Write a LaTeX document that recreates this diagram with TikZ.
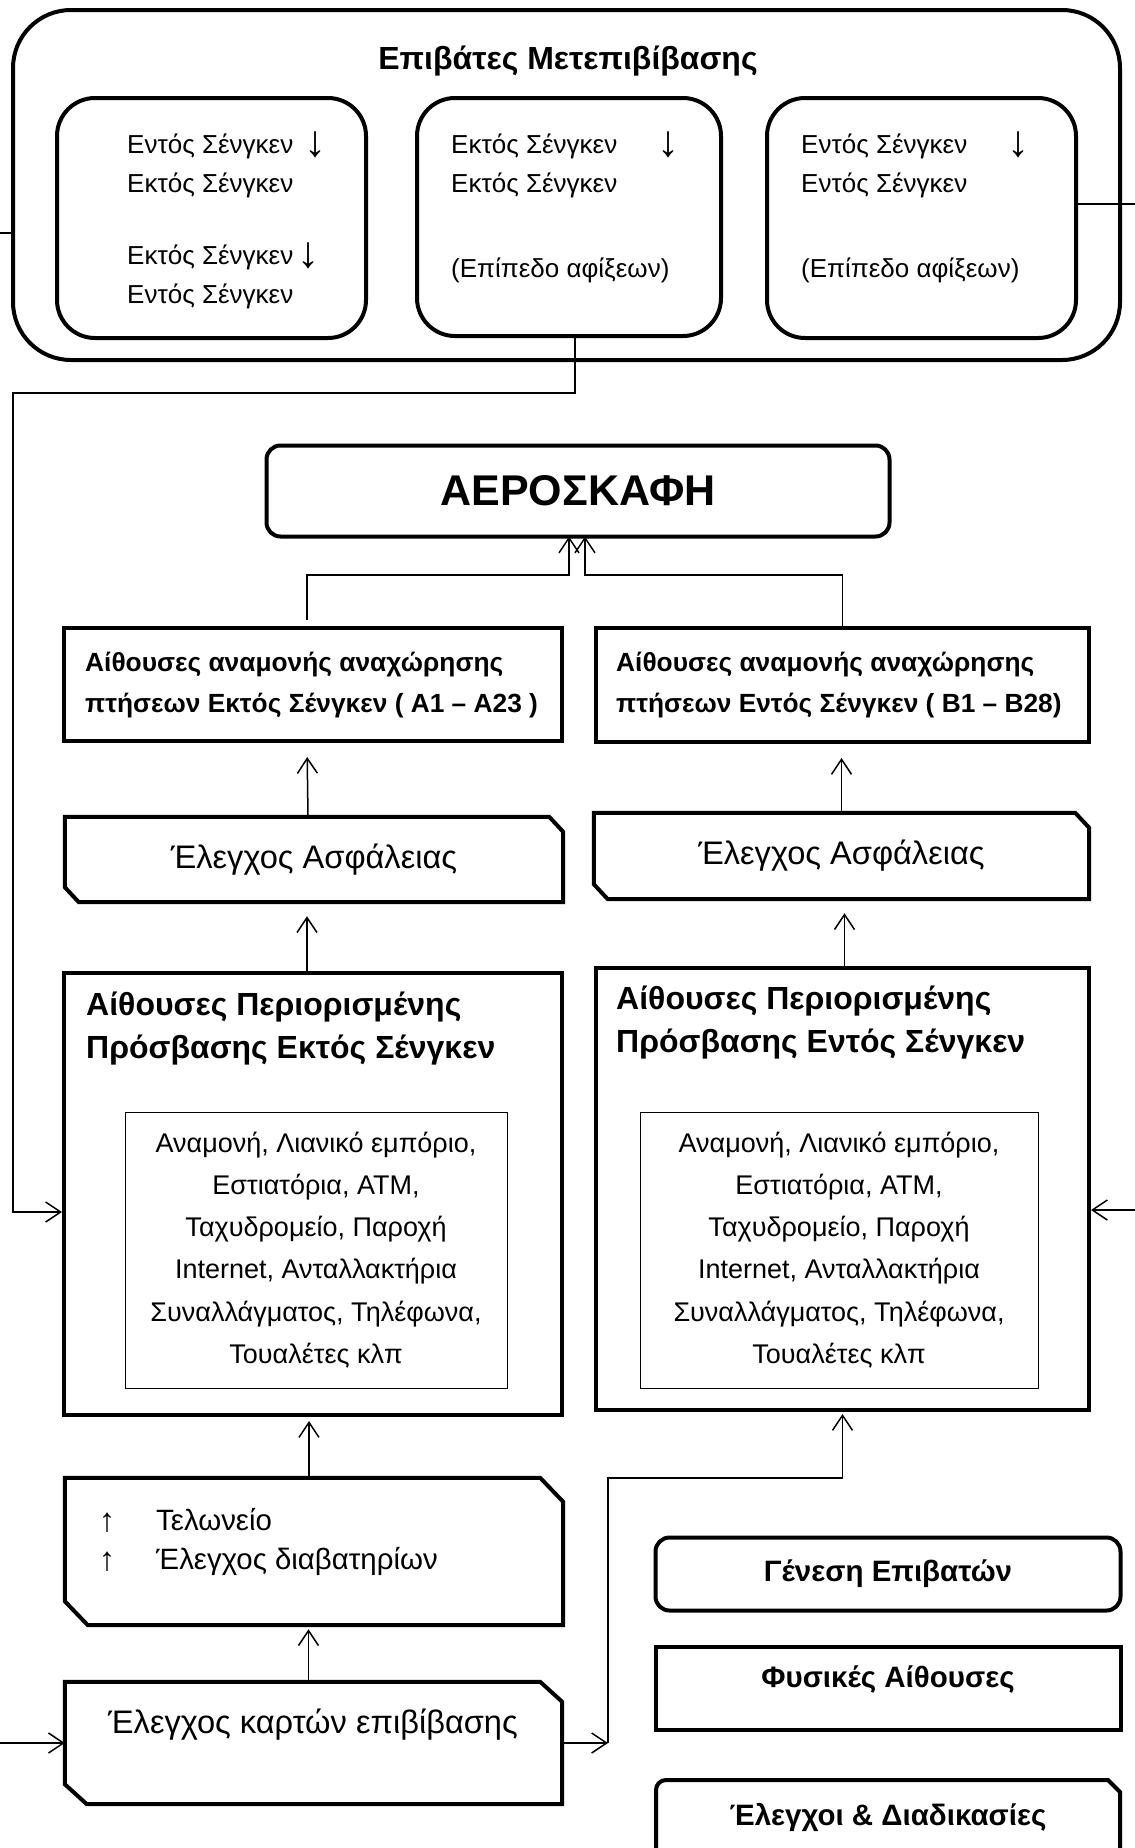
\documentclass[tikz,border=0pt]{standalone}
\usepackage{fontspec}
\setmainfont{Liberation Sans}
\usetikzlibrary{arrows.meta,calc}

% outline of a box with the top-right and bottom-left corners cut off
\newcommand\cutoutline[3]{%
  \draw[boxline] (#1.north west) -- ([xshift=-#2pt]#1.north east)
    -- ([yshift=-#3pt]#1.north east) -- (#1.south east)
    -- ([xshift=#2pt]#1.south west) -- ([yshift=#3pt]#1.south west) -- cycle;}

\begin{document}
\begin{tikzpicture}[x=1pt,y=-1pt,
  boxline/.style={line width=4pt},
  tbox/.style={draw, boxline, inner sep=0pt},
  plain/.style={inner sep=0pt, minimum width=0pt},
  reg/.style={plain, font=\fontsize{26}{31}\selectfont},
  glyph/.style={plain, anchor=base, font=\fontsize{44}{50}\selectfont},
  smallglyph/.style={plain, anchor=base, font=\fontsize{33}{38}\selectfont},
  conn/.style={line width=1.5pt},
  arr/.style={conn, -{Straight Barb[length=15pt,width=20pt]}},
  bhead/.style={plain, font=\bfseries\fontsize{26.3}{31}\selectfont, anchor=base west},
  lhead/.style={plain, font=\bfseries\fontsize{32}{38}\selectfont, anchor=base west},
  legend/.style={tbox, minimum width=465pt, font=\bfseries\fontsize{29.5}{35}\selectfont},
  legtxt/.style={plain, font=\bfseries\fontsize{29.5}{35}\selectfont},
  listbox/.style={draw, line width=1pt, inner sep=0pt, minimum height=276pt,
    align=center, font=\fontsize{27}{42.2}\selectfont},
  seclbl/.style={plain, font=\fontsize{32.6}{39}\selectfont}]
\useasboundingbox (0,0) rectangle (1135,1848);

% transfer passengers
\node[tbox, rounded corners=58pt, minimum width=1107pt, minimum height=350pt] (transfer) at (566.5,185) {};
\node[plain, font=\bfseries\fontsize{32}{38}\selectfont] (ttl) at (568,61) {Επιβάτες Μετεπιβίβασης};
\node[tbox, rounded corners=38pt, minimum width=309pt, minimum height=240pt] (tb1) at (211.5,218) {};
\node[tbox, rounded corners=38pt, minimum width=304pt, minimum height=238pt] (tb2) at (569,217) {};
\node[tbox, rounded corners=38pt, minimum width=309pt, minimum height=240pt] (tb3) at (921.5,218) {};

\node[reg, anchor=base west] (t1a) at (127,153) {Εντός Σένγκεν};
\node[glyph] (t1x) at (315,156) {↓};
\node[reg, anchor=base west] (t1b) at (127,192) {Εκτός Σένγκεν};
\node[reg, anchor=base west] (t1c) at (127,264) {Εκτός Σένγκεν};
\node[glyph] (t1y) at (308,267) {↓};
\node[reg, anchor=base west] (t1d) at (127,303) {Εντός Σένγκεν};

\node[reg, anchor=base west] (t2a) at (451,153) {Εκτός Σένγκεν};
\node[glyph] (t2x) at (668,156) {↓};
\node[reg, anchor=base west] (t2b) at (451,192) {Εκτός Σένγκεν};
\node[reg, anchor=base west] (t2c) at (451,277) {(Επίπεδο αφίξεων)};

\node[reg, anchor=base west] (t3a) at (801,153) {Εντός Σένγκεν};
\node[glyph] (t3x) at (1018,156) {↓};
\node[reg, anchor=base west] (t3b) at (801,192) {Εντός Σένγκεν};
\node[reg, anchor=base west] (t3c) at (801,277) {(Επίπεδο αφίξεων)};

% aircraft
\node[tbox, rounded corners=14pt, minimum width=623pt, minimum height=91pt,
  font=\bfseries\fontsize{43}{50}\selectfont] (plane) at (578,491) {ΑΕΡΟΣΚΑΦΗ};

% departure gates
\node[tbox, minimum width=498pt, minimum height=113pt] (wait1) at (313,684.5) {};
\node[bhead] (w1a) at (85,671) {Αίθουσες αναμονής αναχώρησης};
\node[bhead] (w1b) at (85,712) {πτήσεων Εκτός Σένγκεν ( A1 – A23 )};
\node[tbox, minimum width=493pt, minimum height=114pt] (wait2) at (842.5,685) {};
\node[bhead] (w2a) at (616,671) {Αίθουσες αναμονής αναχώρησης};
\node[bhead] (w2b) at (616,712) {πτήσεων Εντός Σένγκεν ( B1 – B28)};

% security checks
\node[seclbl, minimum width=498pt, minimum height=85pt] (sec1) at (314,859.5) {Έλεγχος Ασφάλειας};
\cutoutline{sec1}{14}{15}
\node[seclbl, minimum width=495pt, minimum height=86pt] (sec2) at (841.5,856) {Έλεγχος Ασφάλειας};
\cutoutline{sec2}{14}{15}

% restricted-access lounges
\node[tbox, minimum width=498pt, minimum height=442pt] (lounge1) at (313,1194) {};
\node[lhead] (l1a) at (86,1015) {Αίθουσες Περιορισμένης};
\node[lhead] (l1b) at (86,1058) {Πρόσβασης Εκτός Σένγκεν};
\node[listbox, minimum width=382pt] (list1) at (316,1250)
  {Αναμονή, Λιανικό εμπόριο,\\Εστιατόρια, ATM,\\Ταχυδρομείο, Παροχή\\Internet, Ανταλλακτήρια\\Συναλλάγματος, Τηλέφωνα,\\Τουαλέτες κλπ};
\node[tbox, minimum width=493pt, minimum height=442pt] (lounge2) at (842.5,1189) {};
\node[lhead] (l2a) at (616,1009) {Αίθουσες Περιορισμένης};
\node[lhead] (l2b) at (616,1052) {Πρόσβασης Εντός Σένγκεν};
\node[listbox, minimum width=398pt] (list2) at (839,1250)
  {Αναμονή, Λιανικό εμπόριο,\\Εστιατόρια, ATM,\\Ταχυδρομείο, Παροχή\\Internet, Ανταλλακτήρια\\Συναλλάγματος, Τηλέφωνα,\\Τουαλέτες κλπ};

% customs and passport control
\node[plain, minimum width=498pt, minimum height=147pt] (customs) at (314,1551.5) {};
\cutoutline{customs}{23}{24}
\node[smallglyph] (cu1) at (107,1531) {↑};
\node[reg, anchor=base west, font=\fontsize{29.4}{35}\selectfont] (cu2) at (156,1530) {Τελωνείο};
\node[smallglyph] (cu3) at (107,1570) {↑};
\node[reg, anchor=base west, font=\fontsize{29.4}{35}\selectfont] (cu4) at (156,1569) {Έλεγχος διαβατηρίων};

% boarding pass check
\node[plain, minimum width=497pt, minimum height=122pt] (card) at (313.5,1743) {};
\cutoutline{card}{22}{20}
\node[seclbl] (cardtxt) at (313,1725) {Έλεγχος καρτών επιβίβασης};

% legend
\node[legend, rounded corners=14pt, minimum height=73pt] (gen) at (888,1574) {Γένεση Επιβατών};
\node[legend, minimum height=83pt] (phys) at (888,1688.5) {};
\node[legtxt] (physt) at (888,1680) {Φυσικές Αίθουσες};
\node[legtxt] (ctrl) at (888,1817) {Έλεγχοι \& Διαδικασίες};
\draw[boxline] (656,1850) [rounded corners=10pt] -- (656,1780) [sharp corners] -- (1108,1780) -- (1120,1792) -- (1120,1850);

% connectors
\coordinate (lin) at (0,233);
\draw[conn] (lin) -- (lin -| transfer.west);
\coordinate (rout) at (1135,204);
\draw[conn] (rout -| tb3.east) -- (rout);

\coordinate (lbend) at (13,393);
\draw[arr] ([xshift=6pt]tb2.south) |- (lbend) |- ([yshift=-18pt]lounge1.west);

\coordinate (j1) at (569,575);
\coordinate (j2) at (585,575);
\draw[arr, shorten >=-2pt] ([shift={(-6pt,6pt)}]wait1.north) |- (j1) -- (j1 |- plane.south);
\draw[arr, shorten >=-2pt] (wait2.north) |- (j2) -- (j2 |- plane.south);

\draw[arr, shorten >=14pt] ([xshift=-6pt]sec1.north) -- ([xshift=-6pt]wait1.south);
\draw[arr, shorten >=14pt] (sec2.north) -- (sec2.north |- wait2.south);
\draw[arr, shorten >=14pt] ([xshift=-6pt]lounge1.north) -- ([xshift=-6pt]lounge1.north |- sec1.south);
\draw[arr, shorten >=14pt] ([xshift=2pt]lounge2.north) -- ([xshift=2pt]lounge2.north |- sec2.south);

\draw[arr, shorten >=4pt] ([xshift=-5pt]customs.north) -- ([xshift=-5pt]customs.north |- lounge1.south);
\draw[arr, shorten >=4pt] ([xshift=-5pt]card.north) -- ([xshift=-5pt]card.north |- customs.south);

\coordinate (c1) at (608,1743);
\draw[arr] (card.east) -- (c1);
\coordinate (c2) at (608,1478);
\draw[arr, shorten >=2pt] (c1) -- (c2) -| (lounge2.south);

\coordinate (bin) at (0,1743);
\draw[arr] (bin) -- (card.west);
\coordinate (rin) at (1135,1210);
\draw[arr] (rin) -- (rin -| lounge2.east);
\end{tikzpicture}
\end{document}
